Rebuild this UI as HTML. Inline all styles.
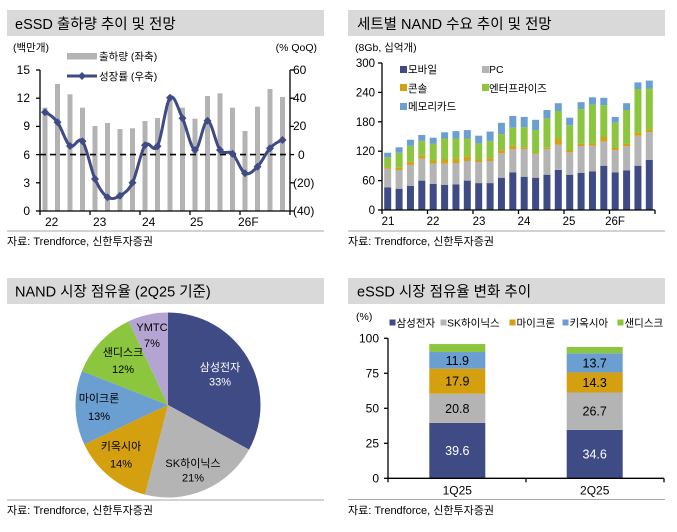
<!DOCTYPE html>
<html><head><meta charset="utf-8">
<style>
html,body{margin:0;padding:0;background:#fff;}
svg{display:block;font-family:"Liberation Sans","Noto Sans CJK KR",sans-serif;}
</style></head>
<body>
<svg width="677" height="532" viewBox="0 0 677 532" xmlns="http://www.w3.org/2000/svg">
<rect width="677" height="532" fill="#fff"/>

<!-- ===== Top-left panel ===== -->
<rect x="7" y="10" width="317" height="26" fill="#d9d9d9"/>
<text x="15" y="29" font-size="14.5" fill="#000">eSSD 출하량 추이 및 전망</text>
<text x="13" y="51" font-size="10.5" fill="#000">(백만개)</text>
<text x="317" y="51" font-size="10.5" fill="#000" text-anchor="end">(% QoQ)</text>

<!-- bars -->
<g fill="#b3b3b3">
<rect x="42.5" y="107.7" width="5" height="103.3"/>
<rect x="55" y="84" width="5" height="127"/>
<rect x="67.5" y="94.3" width="5" height="116.7"/>
<rect x="80" y="107.7" width="5" height="103.3"/>
<rect x="92.5" y="126" width="5" height="85"/>
<rect x="105" y="123" width="5" height="88"/>
<rect x="117.5" y="129" width="5" height="82"/>
<rect x="130" y="128.3" width="5" height="82.7"/>
<rect x="142.5" y="121" width="5" height="90"/>
<rect x="155" y="118" width="5" height="93"/>
<rect x="167.5" y="100" width="5" height="111"/>
<rect x="180" y="107.7" width="5" height="103.3"/>
<rect x="192.5" y="118.7" width="5" height="92.3"/>
<rect x="205" y="96" width="5" height="115"/>
<rect x="217.5" y="93.3" width="5" height="117.7"/>
<rect x="230" y="107.7" width="5" height="103.3"/>
<rect x="242.5" y="131" width="5" height="80"/>
<rect x="255" y="106.7" width="5" height="104.3"/>
<rect x="267.5" y="89" width="5" height="122"/>
<rect x="280" y="97" width="5" height="114"/>
</g>

<!-- dashed zero line -->
<line x1="40" y1="154.6" x2="290" y2="154.6" stroke="#000" stroke-width="1.6" stroke-dasharray="6,4"/>

<!-- axes -->
<g stroke="#000" stroke-width="1.3">
<line x1="40" y1="70" x2="40" y2="211"/>
<line x1="290" y1="70" x2="290" y2="211"/>
<line x1="40" y1="211" x2="290" y2="211"/>
<line x1="36" y1="70" x2="40" y2="70"/><line x1="36" y1="98.2" x2="40" y2="98.2"/>
<line x1="36" y1="126.4" x2="40" y2="126.4"/><line x1="36" y1="154.6" x2="40" y2="154.6"/>
<line x1="36" y1="182.8" x2="40" y2="182.8"/><line x1="36" y1="211" x2="40" y2="211"/>
<line x1="290" y1="70" x2="294" y2="70"/><line x1="290" y1="98.2" x2="294" y2="98.2"/>
<line x1="290" y1="126.4" x2="294" y2="126.4"/><line x1="290" y1="154.6" x2="294" y2="154.6"/>
<line x1="290" y1="182.8" x2="294" y2="182.8"/><line x1="290" y1="211" x2="294" y2="211"/>
<line x1="40" y1="211" x2="40" y2="215"/><line x1="90" y1="211" x2="90" y2="215"/>
<line x1="140" y1="211" x2="140" y2="215"/><line x1="190" y1="211" x2="190" y2="215"/>
<line x1="240" y1="211" x2="240" y2="215"/><line x1="290" y1="211" x2="290" y2="215"/>
</g>
<g font-size="12" fill="#000" text-anchor="end">
<text x="30" y="74">15</text><text x="30" y="102">12</text><text x="30" y="130">9</text>
<text x="30" y="159">6</text><text x="30" y="187">3</text><text x="30" y="215">0</text>
</g>
<g font-size="12" fill="#000">
<text x="293" y="74">60</text><text x="293" y="102">40</text><text x="293" y="130">20</text>
<text x="298" y="159">0</text><text x="293" y="187">(20)</text><text x="293" y="215">(40)</text>
</g>
<g font-size="12" fill="#000">
<text x="45" y="226">22</text><text x="93" y="226">23</text><text x="142" y="226">24</text>
<text x="190" y="226">25</text><text x="238" y="226">26F</text>
</g>

<!-- line -->
<path d="M45,112.3 C49.17,113.97 53.33,116.68 57.5,122.3 C61.67,127.92 65.83,142.83 70,146 C74.17,149.17 78.33,135.8 82.5,141.3 C86.67,146.8 90.83,169.67 95,179 C99.17,188.33 103.33,194.52 107.5,197.3 C111.67,200.08 115.83,198.13 120,195.7 C124.17,193.27 128.33,191.1 132.5,182.7 C136.67,174.3 140.83,151.37 145,145.3 C149.17,139.23 153.33,154.23 157.5,146.3 C161.67,138.37 165.83,102.37 170,97.7 C174.17,93.03 178.33,109.58 182.5,118.3 C186.67,127.02 190.83,149.6 195,150 C199.17,150.4 203.33,120.7 207.5,120.7 C211.67,120.7 215.83,144.5 220,150 C224.17,155.5 228.33,149.82 232.5,153.7 C236.67,157.58 240.83,171.13 245,173.3 C249.17,175.47 253.33,170.87 257.5,166.7 C261.67,162.53 265.83,152.75 270,148.3 C274.17,143.85 278.33,141.38 282.5,140" fill="none" stroke="#3f4b85" stroke-width="3"/>
<g fill="#3f4b85">
<path d="M45,108.3 l4,4 l-4,4 l-4,-4z"/>
<path d="M57.5,118.3 l4,4 l-4,4 l-4,-4z"/>
<path d="M70,142 l4,4 l-4,4 l-4,-4z"/>
<path d="M82.5,137.3 l4,4 l-4,4 l-4,-4z"/>
<path d="M95,175 l4,4 l-4,4 l-4,-4z"/>
<path d="M107.5,193.3 l4,4 l-4,4 l-4,-4z"/>
<path d="M120,191.7 l4,4 l-4,4 l-4,-4z"/>
<path d="M132.5,178.7 l4,4 l-4,4 l-4,-4z"/>
<path d="M145,141.3 l4,4 l-4,4 l-4,-4z"/>
<path d="M157.5,142.3 l4,4 l-4,4 l-4,-4z"/>
<path d="M170,93.7 l4,4 l-4,4 l-4,-4z"/>
<path d="M182.5,114.3 l4,4 l-4,4 l-4,-4z"/>
<path d="M195,146 l4,4 l-4,4 l-4,-4z"/>
<path d="M207.5,116.7 l4,4 l-4,4 l-4,-4z"/>
<path d="M220,146 l4,4 l-4,4 l-4,-4z"/>
<path d="M232.5,149.7 l4,4 l-4,4 l-4,-4z"/>
<path d="M245,169.3 l4,4 l-4,4 l-4,-4z"/>
<path d="M257.5,162.7 l4,4 l-4,4 l-4,-4z"/>
<path d="M270,144.3 l4,4 l-4,4 l-4,-4z"/>
<path d="M282.5,136 l4,4 l-4,4 l-4,-4z"/>
</g>

<!-- legend -->
<rect x="67" y="53" width="30" height="6.5" fill="#b3b3b3"/>
<text x="99" y="60" font-size="10.5" fill="#000">출하량 (좌축)</text>
<line x1="67" y1="76" x2="97" y2="76" stroke="#3f4b85" stroke-width="3"/>
<path d="M82,72 l4,4 l-4,4 l-4,-4z" fill="#3f4b85"/>
<text x="99" y="80" font-size="10.5" fill="#000">성장률 (우축)</text>

<line x1="7" y1="231" x2="324" y2="231" stroke="#a6a6a6" stroke-width="1"/>
<text x="7" y="245" font-size="11" fill="#000">자료: Trendforce, 신한투자증권</text>

<!-- ===== Top-right panel ===== -->
<rect x="348" y="10" width="317" height="26" fill="#d9d9d9"/>
<text x="357" y="29" font-size="14.5" fill="#000">세트별 NAND 수요 추이 및 전망</text>
<text x="355" y="51" font-size="10.5" fill="#000">(8Gb, 십억개)</text>

<g font-size="11.5" fill="#000" text-anchor="end">
<text x="375" y="67">300</text><text x="375" y="96.4">240</text><text x="375" y="126">180</text>
<text x="375" y="155">120</text><text x="375" y="184.6">60</text><text x="375" y="214">0</text>
</g>
<g font-size="11.5" fill="#000" text-anchor="middle">
<text x="388" y="225">21</text><text x="433" y="225">22</text><text x="479" y="225">23</text>
<text x="524" y="225">24</text><text x="569" y="225">25</text><text x="615" y="225">26F</text>
</g>

<g id="bars">
<g>
<rect x="384.2" y="187.5" width="7" height="22.5" fill="#3f4b85"/><rect x="384.2" y="168.8" width="7" height="18.7" fill="#b4b4b4"/><rect x="384.2" y="167.4" width="7" height="1.4" fill="#d4a016"/><rect x="384.2" y="157.3" width="7" height="10.1" fill="#8cc63f"/><rect x="384.2" y="152.7" width="7" height="4.6" fill="#6b9fd1"/>
<rect x="395.6" y="188.7" width="7" height="21.3" fill="#3f4b85"/><rect x="395.6" y="170" width="7" height="18.7" fill="#b4b4b4"/><rect x="395.6" y="167.9" width="7" height="2.1" fill="#d4a016"/><rect x="395.6" y="152.7" width="7" height="15.2" fill="#8cc63f"/><rect x="395.6" y="147.3" width="7" height="5.4" fill="#6b9fd1"/>
<rect x="406.95" y="186" width="7" height="24" fill="#3f4b85"/><rect x="406.95" y="164.9" width="7" height="21.1" fill="#b4b4b4"/><rect x="406.95" y="161.7" width="7" height="3.2" fill="#d4a016"/><rect x="406.95" y="145.8" width="7" height="15.9" fill="#8cc63f"/><rect x="406.95" y="139.7" width="7" height="6.1" fill="#6b9fd1"/>
<rect x="418.3" y="180.6" width="7" height="29.4" fill="#3f4b85"/><rect x="418.3" y="158.6" width="7" height="22" fill="#b4b4b4"/><rect x="418.3" y="155.3" width="7" height="3.3" fill="#d4a016"/><rect x="418.3" y="140.9" width="7" height="14.4" fill="#8cc63f"/><rect x="418.3" y="135" width="7" height="5.9" fill="#6b9fd1"/>
<rect x="429.7" y="184" width="7" height="26" fill="#3f4b85"/><rect x="429.7" y="163.5" width="7" height="20.5" fill="#b4b4b4"/><rect x="429.7" y="160.5" width="7" height="3" fill="#d4a016"/><rect x="429.7" y="143.9" width="7" height="16.6" fill="#8cc63f"/><rect x="429.7" y="137.7" width="7" height="6.2" fill="#6b9fd1"/>
<rect x="441.1" y="185" width="7" height="25" fill="#3f4b85"/><rect x="441.1" y="163.6" width="7" height="21.4" fill="#b4b4b4"/><rect x="441.1" y="159.5" width="7" height="4.1" fill="#d4a016"/><rect x="441.1" y="138.5" width="7" height="21" fill="#8cc63f"/><rect x="441.1" y="132.3" width="7" height="6.2" fill="#6b9fd1"/>
<rect x="452.45" y="184.5" width="7" height="25.5" fill="#3f4b85"/><rect x="452.45" y="163" width="7" height="21.5" fill="#b4b4b4"/><rect x="452.45" y="158.6" width="7" height="4.4" fill="#d4a016"/><rect x="452.45" y="138.5" width="7" height="20.1" fill="#8cc63f"/><rect x="452.45" y="131.1" width="7" height="7.4" fill="#6b9fd1"/>
<rect x="463.8" y="180.6" width="7" height="29.4" fill="#3f4b85"/><rect x="463.8" y="161" width="7" height="19.6" fill="#b4b4b4"/><rect x="463.8" y="156.3" width="7" height="4.7" fill="#d4a016"/><rect x="463.8" y="138.5" width="7" height="17.8" fill="#8cc63f"/><rect x="463.8" y="130.1" width="7" height="8.4" fill="#6b9fd1"/>
<rect x="475.2" y="183.1" width="7" height="26.9" fill="#3f4b85"/><rect x="475.2" y="162" width="7" height="21.1" fill="#b4b4b4"/><rect x="475.2" y="159.5" width="7" height="2.5" fill="#d4a016"/><rect x="475.2" y="143.4" width="7" height="16.1" fill="#8cc63f"/><rect x="475.2" y="135.7" width="7" height="7.7" fill="#6b9fd1"/>
<rect x="486.6" y="183.1" width="7" height="26.9" fill="#3f4b85"/><rect x="486.6" y="161" width="7" height="22.1" fill="#b4b4b4"/><rect x="486.6" y="158.1" width="7" height="2.9" fill="#d4a016"/><rect x="486.6" y="140.9" width="7" height="17.2" fill="#8cc63f"/><rect x="486.6" y="131.6" width="7" height="9.3" fill="#6b9fd1"/>
<rect x="497.95" y="177.7" width="7" height="32.3" fill="#3f4b85"/><rect x="497.95" y="153.2" width="7" height="24.5" fill="#b4b4b4"/><rect x="497.95" y="150.2" width="7" height="3" fill="#d4a016"/><rect x="497.95" y="134.1" width="7" height="16.1" fill="#8cc63f"/><rect x="497.95" y="122.8" width="7" height="11.3" fill="#6b9fd1"/>
<rect x="509.3" y="172.3" width="7" height="37.7" fill="#3f4b85"/><rect x="509.3" y="149" width="7" height="23.3" fill="#b4b4b4"/><rect x="509.3" y="145.8" width="7" height="3.2" fill="#d4a016"/><rect x="509.3" y="127.7" width="7" height="18.1" fill="#8cc63f"/><rect x="509.3" y="115.9" width="7" height="11.8" fill="#6b9fd1"/>
<rect x="520.7" y="176.7" width="7" height="33.3" fill="#3f4b85"/><rect x="520.7" y="149" width="7" height="27.7" fill="#b4b4b4"/><rect x="520.7" y="147.3" width="7" height="1.7" fill="#d4a016"/><rect x="520.7" y="127.2" width="7" height="20.1" fill="#8cc63f"/><rect x="520.7" y="116.9" width="7" height="10.3" fill="#6b9fd1"/>
<rect x="532.1" y="177.7" width="7" height="32.3" fill="#3f4b85"/><rect x="532.1" y="154.1" width="7" height="23.6" fill="#b4b4b4"/><rect x="532.1" y="153.2" width="7" height="0.9" fill="#d4a016"/><rect x="532.1" y="130.1" width="7" height="23.1" fill="#8cc63f"/><rect x="532.1" y="119.8" width="7" height="10.3" fill="#6b9fd1"/>
<rect x="543.45" y="174.7" width="7" height="35.3" fill="#3f4b85"/><rect x="543.45" y="149.2" width="7" height="25.5" fill="#b4b4b4"/><rect x="543.45" y="147.8" width="7" height="1.4" fill="#d4a016"/><rect x="543.45" y="118.4" width="7" height="29.4" fill="#8cc63f"/><rect x="543.45" y="110" width="7" height="8.4" fill="#6b9fd1"/>
<rect x="554.8" y="169.8" width="7" height="40.2" fill="#3f4b85"/><rect x="554.8" y="144.8" width="7" height="25" fill="#b4b4b4"/><rect x="554.8" y="139" width="7" height="5.8" fill="#d4a016"/><rect x="554.8" y="111" width="7" height="28" fill="#8cc63f"/><rect x="554.8" y="103.2" width="7" height="7.8" fill="#6b9fd1"/>
<rect x="566.2" y="174.7" width="7" height="35.3" fill="#3f4b85"/><rect x="566.2" y="152.3" width="7" height="22.4" fill="#b4b4b4"/><rect x="566.2" y="150" width="7" height="2.3" fill="#d4a016"/><rect x="566.2" y="125.2" width="7" height="24.8" fill="#8cc63f"/><rect x="566.2" y="117.7" width="7" height="7.5" fill="#6b9fd1"/>
<rect x="577.6" y="172.8" width="7" height="37.2" fill="#3f4b85"/><rect x="577.6" y="146" width="7" height="26.8" fill="#b4b4b4"/><rect x="577.6" y="143.9" width="7" height="2.1" fill="#d4a016"/><rect x="577.6" y="109.1" width="7" height="34.8" fill="#8cc63f"/><rect x="577.6" y="102.2" width="7" height="6.9" fill="#6b9fd1"/>
<rect x="588.95" y="171.3" width="7" height="38.7" fill="#3f4b85"/><rect x="588.95" y="145.8" width="7" height="25.5" fill="#b4b4b4"/><rect x="588.95" y="143.4" width="7" height="2.4" fill="#d4a016"/><rect x="588.95" y="104.4" width="7" height="39" fill="#8cc63f"/><rect x="588.95" y="97.3" width="7" height="7.1" fill="#6b9fd1"/>
<rect x="600.3" y="165.7" width="7" height="44.3" fill="#3f4b85"/><rect x="600.3" y="141.6" width="7" height="24.1" fill="#b4b4b4"/><rect x="600.3" y="137" width="7" height="4.6" fill="#d4a016"/><rect x="600.3" y="105.1" width="7" height="31.9" fill="#8cc63f"/><rect x="600.3" y="97.8" width="7" height="7.3" fill="#6b9fd1"/>
<rect x="611.7" y="172.3" width="7" height="37.7" fill="#3f4b85"/><rect x="611.7" y="150.2" width="7" height="22.1" fill="#b4b4b4"/><rect x="611.7" y="148" width="7" height="2.2" fill="#d4a016"/><rect x="611.7" y="122.8" width="7" height="25.2" fill="#8cc63f"/><rect x="611.7" y="116.9" width="7" height="5.9" fill="#6b9fd1"/>
<rect x="623.1" y="170.3" width="7" height="39.7" fill="#3f4b85"/><rect x="623.1" y="146.3" width="7" height="24" fill="#b4b4b4"/><rect x="623.1" y="143.9" width="7" height="2.4" fill="#d4a016"/><rect x="623.1" y="110" width="7" height="33.9" fill="#8cc63f"/><rect x="623.1" y="103.2" width="7" height="6.8" fill="#6b9fd1"/>
<rect x="634.45" y="165.7" width="7" height="44.3" fill="#3f4b85"/><rect x="634.45" y="135.7" width="7" height="30" fill="#b4b4b4"/><rect x="634.45" y="132.3" width="7" height="3.4" fill="#d4a016"/><rect x="634.45" y="89" width="7" height="43.3" fill="#8cc63f"/><rect x="634.45" y="82.4" width="7" height="6.6" fill="#6b9fd1"/>
<rect x="645.8" y="160" width="7" height="50" fill="#3f4b85"/><rect x="645.8" y="132.3" width="7" height="27.7" fill="#b4b4b4"/><rect x="645.8" y="129.6" width="7" height="2.7" fill="#d4a016"/><rect x="645.8" y="88.5" width="7" height="41.1" fill="#8cc63f"/><rect x="645.8" y="80.6" width="7" height="7.9" fill="#6b9fd1"/>
</g>
</g>

<g stroke="#000" stroke-width="1.3">
<line x1="382" y1="63" x2="382" y2="210"/>
<line x1="382" y1="210" x2="655" y2="210"/>
<line x1="378" y1="63" x2="382" y2="63"/><line x1="378" y1="92.4" x2="382" y2="92.4"/>
<line x1="378" y1="121.8" x2="382" y2="121.8"/><line x1="378" y1="151.2" x2="382" y2="151.2"/>
<line x1="378" y1="180.6" x2="382" y2="180.6"/><line x1="378" y1="210" x2="382" y2="210"/>
<line x1="382" y1="210" x2="382" y2="214"/><line x1="427.5" y1="210" x2="427.5" y2="214"/>
<line x1="473" y1="210" x2="473" y2="214"/><line x1="518.5" y1="210" x2="518.5" y2="214"/>
<line x1="564" y1="210" x2="564" y2="214"/><line x1="609.5" y1="210" x2="609.5" y2="214"/>
<line x1="655" y1="210" x2="655" y2="214"/>
</g>

<!-- legend -->
<g font-size="10.5" fill="#000">
<rect x="400" y="66" width="7" height="7" fill="#3f4b85"/><text x="408" y="73">모바일</text>
<rect x="482" y="66" width="7" height="7" fill="#b4b4b4"/><text x="489" y="73">PC</text>
<rect x="400" y="84" width="7" height="7" fill="#d4a016"/><text x="408" y="92">콘솔</text>
<rect x="482" y="84" width="7" height="7" fill="#8cc63f"/><text x="489" y="92">엔터프라이즈</text>
<rect x="400" y="103" width="7" height="7" fill="#6b9fd1"/><text x="408" y="110">메모리카드</text>
</g>

<line x1="348" y1="231" x2="665" y2="231" stroke="#a6a6a6" stroke-width="1"/>
<text x="348" y="245" font-size="11" fill="#000">자료: Trendforce, 신한투자증권</text>

<!-- ===== Bottom-left panel (pie) ===== -->
<rect x="7" y="278" width="317" height="26" fill="#d9d9d9"/>
<text x="15" y="296.5" font-size="14.5" fill="#000">NAND 시장 점유율 (2Q25 기준)</text>

<path d="M168,405 L168,312.5 A92.5,92.5 0 0,1 249.06,449.57 Z" fill="#3f4b85"/>
<path d="M168,405 L249.06,449.57 A92.5,92.5 0 0,1 145,494.6 Z" fill="#b4b4b4"/>
<path d="M168,405 L145,494.6 A92.5,92.5 0 0,1 84.3,444.4 Z" fill="#d4a00f"/>
<path d="M168,405 L84.3,444.4 A92.5,92.5 0 0,1 82,370.95 Z" fill="#6b9fd1"/>
<path d="M168,405 L82,370.95 A92.5,92.5 0 0,1 128.6,321.3 Z" fill="#8cc63f"/>
<path d="M168,405 L128.6,321.3 A92.5,92.5 0 0,1 168,312.5 Z" fill="#b3a4d1"/>

<g font-size="11" text-anchor="middle">
<text x="220" y="371" fill="#fff">삼성전자</text><text x="220" y="385.5" fill="#fff">33%</text>
<text x="193" y="467" fill="#000">SK하이닉스</text><text x="193" y="481.5" fill="#000">21%</text>
<text x="121" y="450" fill="#000">키옥시아</text><text x="121" y="467.5" fill="#000">14%</text>
<text x="99" y="402" fill="#000">마이크론</text><text x="99" y="420" fill="#000">13%</text>
<text x="123" y="356" fill="#000">샌디스크</text><text x="123" y="373" fill="#000">12%</text>
<text x="152" y="331" fill="#000">YMTC</text><text x="152" y="347" fill="#000">7%</text>
</g>

<line x1="7" y1="500" x2="324" y2="500" stroke="#a6a6a6" stroke-width="1"/>
<text x="7" y="514" font-size="11" fill="#000">자료: Trendforce, 신한투자증권</text>

<!-- ===== Bottom-right panel ===== -->
<rect x="348" y="278" width="317" height="26" fill="#d9d9d9"/>
<text x="357" y="296.5" font-size="14.5" fill="#000">eSSD 시장 점유율 변화 추이</text>
<text x="356" y="320" font-size="10.5" fill="#000">(%)</text>

<g font-size="10.5" fill="#000">
<rect x="389.5" y="319.5" width="6" height="6" fill="#3f4b85"/><text x="396.5" y="326.5">삼성전자</text>
<rect x="440.5" y="319.5" width="6" height="6" fill="#b4b4b4"/><text x="447" y="326.5">SK하이닉스</text>
<rect x="509.5" y="319.5" width="6" height="6" fill="#d4a00f"/><text x="516.5" y="326.5">마이크론</text>
<rect x="562.5" y="319.5" width="6" height="6" fill="#6b9fd1"/><text x="569.5" y="326.5">키옥시아</text>
<rect x="617.5" y="319.5" width="6" height="6" fill="#8cc63f"/><text x="624.5" y="326.5">샌디스크</text>
</g>

<rect x="429.3" y="422.9" width="56" height="55.4" fill="#3f4b85"/>
<rect x="429.3" y="393.74" width="56" height="29.16" fill="#b4b4b4"/>
<rect x="429.3" y="368.68" width="56" height="25.06" fill="#d4a00f"/>
<rect x="429.3" y="352.02" width="56" height="16.66" fill="#6b9fd1"/>
<rect x="429.3" y="344.04" width="56" height="7.98" fill="#8cc63f"/>

<rect x="566.7" y="429.86" width="56" height="48.44" fill="#3f4b85"/>
<rect x="566.7" y="392.48" width="56" height="37.38" fill="#b4b4b4"/>
<rect x="566.7" y="372.46" width="56" height="20.02" fill="#d4a00f"/>
<rect x="566.7" y="353.28" width="56" height="19.18" fill="#6b9fd1"/>
<rect x="566.7" y="346.98" width="56" height="6.3" fill="#8cc63f"/>

<g font-size="12.5" text-anchor="middle">
<text x="457.3" y="455" fill="#fff">39.6</text>
<text x="457.3" y="412.8" fill="#000">20.8</text>
<text x="457.3" y="385.7" fill="#000">17.9</text>
<text x="457.3" y="364.9" fill="#000">11.9</text>
<text x="594.7" y="458.5" fill="#fff">34.6</text>
<text x="594.7" y="415.7" fill="#000">26.7</text>
<text x="594.7" y="387" fill="#000">14.3</text>
<text x="594.7" y="367.4" fill="#000">13.7</text>
</g>

<g stroke="#000" stroke-width="1.3">
<line x1="388" y1="338.3" x2="388" y2="478.3"/>
<line x1="388" y1="478.3" x2="664" y2="478.3"/>
<line x1="384" y1="338.3" x2="388" y2="338.3"/><line x1="384" y1="373.3" x2="388" y2="373.3"/>
<line x1="384" y1="408.3" x2="388" y2="408.3"/><line x1="384" y1="443.3" x2="388" y2="443.3"/>
<line x1="384" y1="478.3" x2="388" y2="478.3"/>
<line x1="388" y1="478.3" x2="388" y2="482.3"/><line x1="526" y1="478.3" x2="526" y2="482.3"/>
<line x1="664" y1="478.3" x2="664" y2="482.3"/>
</g>
<g font-size="12" fill="#000" text-anchor="end">
<text x="379" y="342.5">100</text><text x="379" y="377.5">75</text><text x="379" y="412.5">50</text>
<text x="379" y="447.5">25</text><text x="379" y="482.5">0</text>
</g>
<g font-size="12" fill="#000" text-anchor="middle">
<text x="457.3" y="494.5">1Q25</text><text x="594.7" y="494.5">2Q25</text>
</g>

<line x1="348" y1="499.5" x2="665" y2="499.5" stroke="#a6a6a6" stroke-width="1"/>
<text x="348" y="514" font-size="11" fill="#000">자료: Trendforce, 신한투자증권</text>
</svg>
</body></html>
